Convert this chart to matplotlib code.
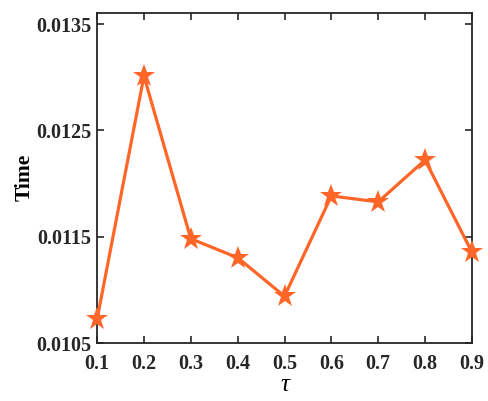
import matplotlib.pyplot as plt

tau = [0.1, 0.2, 0.3, 0.4, 0.5, 0.6, 0.7, 0.8, 0.9]
time_vals = [0.010725, 0.013012, 0.011481, 0.011303, 0.01094,
             0.011884, 0.011828, 0.012222, 0.011356]
yticks = [0.0105, 0.0115, 0.0125, 0.0135]
ytick_labels = ['0.0105', '0.0115', '0.0125', '0.0135']

plt.rcParams['font.family'] = 'Liberation Serif'
plt.rcParams['font.weight'] = 'bold'

fig = plt.figure(figsize=(4.88, 4.01), dpi=100)
ax = fig.add_axes([0.199, 0.1446, 0.768, 0.8242])

ax.plot(tau, time_vals, color='#ff6628', linewidth=2.3, marker='*',
        markersize=17, markeredgewidth=0, clip_on=False, zorder=3)

ax.set_xlim(0.1, 0.9)
ax.set_ylim(0.0105, 0.01361)
ax.set_xticks(tau)
ax.set_xticklabels([f'{t:.1f}' for t in tau])
ax.set_yticks(yticks)
ax.set_yticklabels(ytick_labels)

ax.tick_params(direction='in', length=5, width=1.2, top=True, right=True,
               labelsize=14.5, colors='#262626')
ax.tick_params(axis='x', pad=8)
ax.tick_params(axis='y', pad=4)
for s in ax.spines.values():
    s.set_linewidth(1.3)
    s.set_color('#262626')

ax.set_xlabel('τ', fontsize=18, fontweight='normal', fontstyle='italic',
              labelpad=0)
ax.set_ylabel('Time', fontsize=15.5, fontweight='bold', labelpad=1)

fig.savefig('out.png', dpi=100)
